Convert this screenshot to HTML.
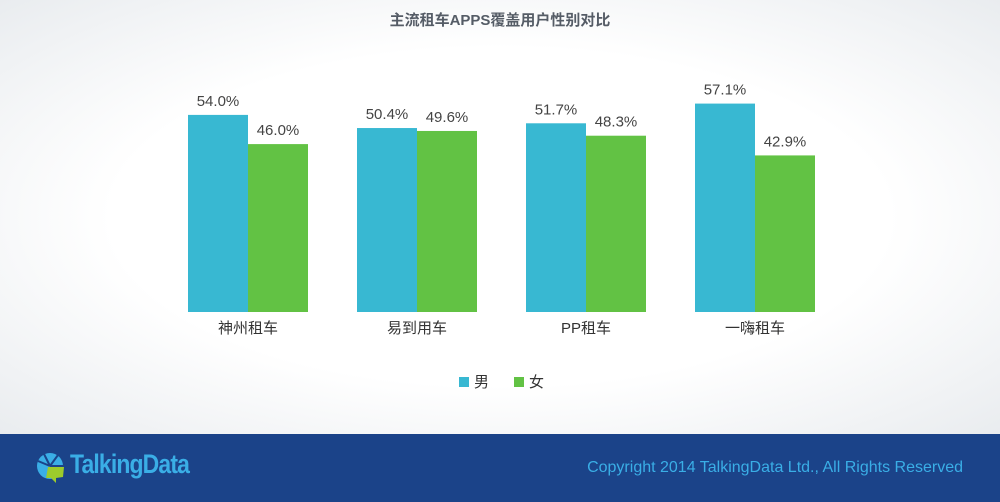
<!DOCTYPE html>
<html><head><meta charset="utf-8"><style>
body{margin:0;width:1000px;height:502px;overflow:hidden;font-family:"Liberation Sans","Noto Sans CJK SC",sans-serif;}
#bg{position:absolute;left:0;top:0;width:1000px;height:434px;background:radial-gradient(ellipse at center,#ffffff 55%,#e9ecef 100%);}
#footer{position:absolute;left:0;top:434px;width:1000px;height:68px;background:#1b4389;}
</style></head><body>
<div id="bg"></div>
<svg width="1000" height="434" style="position:absolute;left:0;top:0" id="chart">
<text x="500" y="25" text-anchor="middle" font-size="15" font-weight="bold" fill="#555c66">主流租车APPS覆盖用户性别对比</text>
<g id="bars"></g>
<rect x="459" y="377" width="10" height="10" fill="#38b8d2"/>
<text x="474" y="387" font-size="15" fill="#333">男</text>
<rect x="514" y="377" width="10" height="10" fill="#62c244"/>
<text x="529" y="387" font-size="15" fill="#333">女</text>
</svg>
<div id="footer">
<svg width="40" height="40" style="position:absolute;left:34px;top:17px">
<circle cx="16" cy="15" r="13" fill="#3aaee6"/>
<path d="M16 15 L29 15 M16 15 L10 3 M16 15 L4 10 M16 15 L24 4" stroke="#1b4389" stroke-width="2"/>
<path d="M14 16 L30 16 L29 26 L22 27 L22 32 L17 27 L12 27 Z" fill="#9ccb2c"/>
</svg>
<div style="position:absolute;left:70px;top:15px;font-size:27px;font-weight:bold;color:#3aaee6;letter-spacing:-1px;transform:scaleX(0.85);transform-origin:left">TalkingData</div>
<div style="position:absolute;right:37px;top:25px;font-size:16px;color:#3aaee6">Copyright 2014 TalkingData Ltd., All Rights Reserved</div>
</div>
<script>
const categories=["神州租车","易到用车","PP租车","一嗨租车"];
const male=[54.0,50.4,51.7,57.1];
const female=[46.0,49.6,48.3,42.9];
const base=312, scale=3.65, x0=188, step=169, bw=60;
const y=v=>base-v*scale;
const g=document.getElementById('bars');
const NS="http://www.w3.org/2000/svg";
function mk(tag,attrs){const e=document.createElementNS(NS,tag);for(const k in attrs)e.setAttribute(k,attrs[k]);g.appendChild(e);return e;}
categories.forEach((c,i)=>{
 const xm=x0+i*step, xf=xm+bw;
 [[male[i],xm,"#38b8d2","male"],[female[i],xf,"#62c244","female"]].forEach(([v,x,col,s])=>{
  const r=mk('rect',{x:x,y:y(v),width:bw,height:base-y(v),fill:col});
  
  
  const t=mk('text',{x:x+bw/2,y:y(v)-9,'text-anchor':'middle','font-size':'15',fill:'#444'});
  t.textContent=v.toFixed(1)+'%';
  
  
 });
 const l=mk('text',{x:xm+bw,y:333,'text-anchor':'middle','font-size':'15',fill:'#333'});
 l.textContent=c;
 
 
});
</script>
</body></html>
